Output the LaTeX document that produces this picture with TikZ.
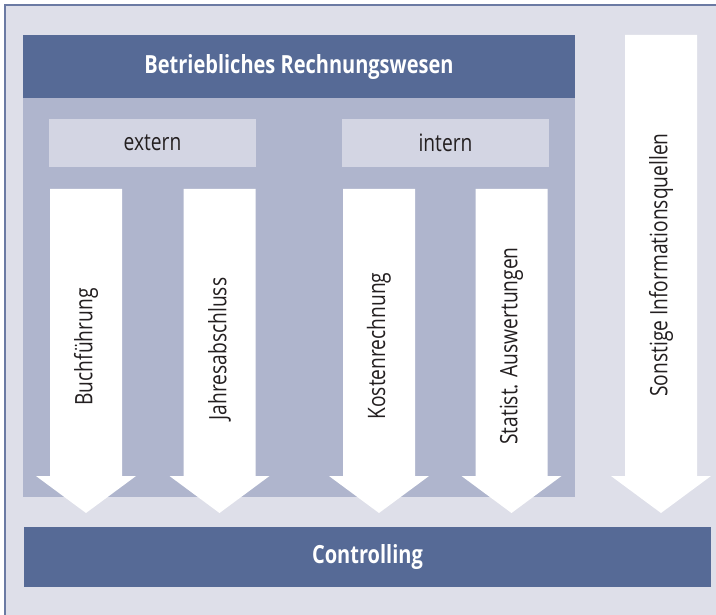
\documentclass[tikz,border=0pt]{standalone}
\usepackage{fontspec}
\usepackage{xcolor}
\usepackage{tikz}
\usetikzlibrary{positioning,calc}
\newfontfamily\diagfont[FakeStretch=0.8]{Open Sans}
\definecolor{framebg}{HTML}{DEDFE9}
\definecolor{frameline}{HTML}{6B7AA3}
\definecolor{darkblue}{HTML}{566A96}
\definecolor{panelblue}{HTML}{AFB5CD}
\definecolor{boxgrey}{HTML}{D3D5E3}
\definecolor{textdark}{HTML}{231F20}

\begin{document}
\begin{tikzpicture}[x=1pt, y=-1pt,
    every node/.style={font=\diagfont\fontsize{24}{28}\selectfont, inner sep=0pt},
    bartitle/.style={text=white, font=\diagfont\bfseries\fontsize{25}{29}\selectfont},
    subbox/.style={fill=boxgrey, text=textdark, minimum width=207pt, minimum height=48pt},
    srclabel/.style={text=textdark, rotate=90}]
    \useasboundingbox (0,0) rectangle (716,615);

    % Frame
    \fill[framebg] (5,5) rectangle (716,615);
    \draw[frameline, line width=1.5pt] (5,615) -- (5,5) -- (716,5);

    % Rechnungswesen block
    \fill[panelblue] (23,98) rectangle (575,497);
    \fill[darkblue] (23,35) rectangle (575,98);
    \node[bartitle] (rw) at (299,67) {Betriebliches Rechnungswesen};

    % extern / intern
    \node[subbox] (extern) at (152.5,143) {extern};
    \node[subbox] (intern) at (445.5,143) {intern};

    % Arrows
    \foreach \cx/\ytop/\ylab/\lbl [count=\i] in {86/189/347/Buchführung,
        219.5/189/349/Jahresabschluss, 379/189/346/Kostenrechnung,
        511.5/189/346/Statist. Auswertungen, 661/35/265/Sonstige Informationsquellen} {
        \fill[white] (\cx-36,\ytop) -- (\cx+36,\ytop) -- (\cx+36,476) -- (\cx+50,476)
            -- (\cx,513) -- (\cx-50,476) -- (\cx-36,476) -- cycle;
        \node[srclabel] (src\i) at (\cx,\ylab) {\lbl};
    }

    % Controlling
    \fill[darkblue] (24,527) rectangle (711,587);
    \node[bartitle] (ctrl) at (367.5,557) {Controlling};

\end{tikzpicture}
\end{document}
